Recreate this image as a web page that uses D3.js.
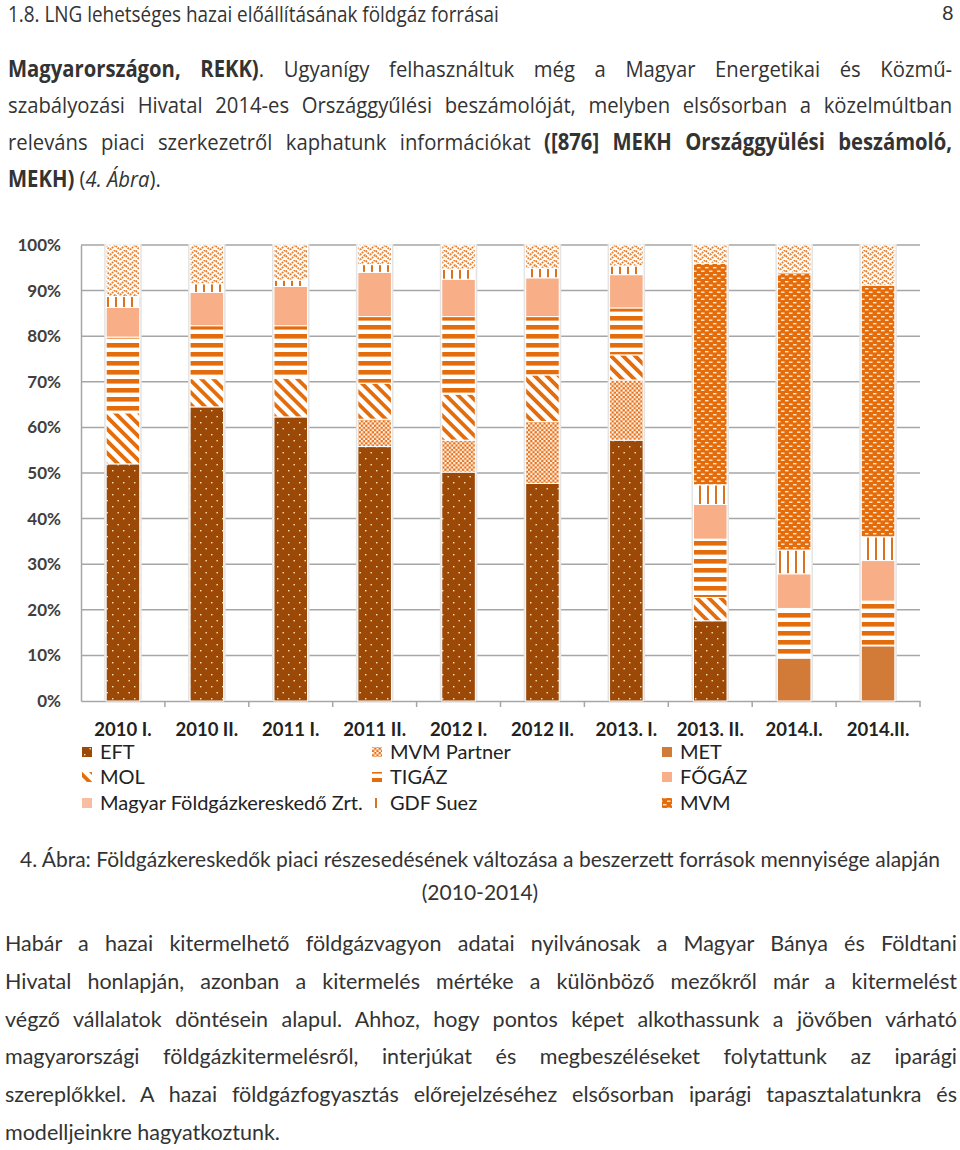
<!DOCTYPE html>
<html lang="hu">
<head>
<meta charset="utf-8">
<title>4. Ábra</title>
<script src="https://d3js.org/d3.v7.min.js"></script>
<style>
  body { margin:0; background:#fff; }
  #page { position:relative; width:960px; height:1150px; overflow:hidden; }
  .line { position:absolute; white-space:nowrap; text-align:justify; text-align-last:justify; }
  .cond { font-family:"Open Sans",sans-serif; font-size:22.5px; color:#333; transform:scaleX(0.9); transform-origin:0 0; }
  .cal { font-family:Lato,sans-serif; font-size:21.5px; color:#333; }
  .last { text-align-last:left; }
  svg { position:absolute; left:0; top:0; }
  .ax text { font-family:Lato,sans-serif; }
</style>
</head>
<body>
<div id="page">
  <div class="line cond last" style="left:8px;top:0px;font-size:21px;line-height:normal;">1.8. LNG lehetséges hazai előállításának földgáz forrásai</div>
  <div class="line cal last" style="left:942px;top:0px;font-size:20px;line-height:normal;">8</div>

  <div class="line cond" style="left:8px;width:1049px;top:53px;"><b>Magyarországon, REKK)</b>. Ugyanígy felhasználtuk még a Magyar Energetikai és Közmű-</div>
  <div class="line cond" style="left:8px;width:1049px;top:89px;">szabályozási Hivatal 2014-es Országgyűlési beszámolóját, melyben elsősorban a közelmúltban</div>
  <div class="line cond" style="left:8px;width:1049px;top:126px;">releváns piaci szerkezetről kaphatunk információkat <b>([876] MEKH Országgyülési beszámoló,</b></div>
  <div class="line cond last" style="left:8px;top:163px;"><b>MEKH)</b> (<i>4. Ábra</i>).</div>

  <div class="line cal last" style="left:0;width:960px;top:846px;font-size:21px;text-align:center;text-align-last:center;">4. Ábra: Földgázkereskedők piaci részesedésének változása a beszerzett források mennyisége alapján</div>
  <div class="line cal last" style="left:0;width:960px;top:879px;font-size:21px;text-align:center;text-align-last:center;">(2010-2014)</div>

  <div class="line cal" style="left:5px;width:952px;top:930px;">Habár a hazai kitermelhető földgázvagyon adatai nyilvánosak a Magyar Bánya és Földtani</div>
  <div class="line cal" style="left:5px;width:952px;top:968px;">Hivatal honlapján, azonban a kitermelés mértéke a különböző mezőkről már a kitermelést</div>
  <div class="line cal" style="left:5px;width:952px;top:1006px;">végző vállalatok döntésein alapul. Ahhoz, hogy pontos képet alkothassunk a jövőben várható</div>
  <div class="line cal" style="left:5px;width:952px;top:1043px;">magyarországi földgázkitermelésről, interjúkat és megbeszéléseket folytattunk az iparági</div>
  <div class="line cal" style="left:5px;width:952px;top:1081px;">szereplőkkel. A hazai földgázfogyasztás előrejelzéséhez elsősorban iparági tapasztalatunkra és</div>
  <div class="line cal last" style="left:5px;top:1119px;">modelljeinkre hagyatkoztunk.</div>
</div>

<script>
// categories and series (percent shares)
var categories = ["2010 I.", "2010 II.", "2011 I.", "2011 II.", "2012 I.", "2012 II.", "2013. I.", "2013. II.", "2014.I.", "2014.II."];

var eft        = [52.0, 64.5, 62.3, 55.8, 50.2, 47.7, 57.2, 17.6, 0, 0];
var mvmPartner = [0, 0, 0, 6.0, 7.0, 13.6, 13.2, 0, 0, 0];
var met        = [0, 0, 0, 0, 0, 0, 0, 0, 9.4, 12.1];
var mol        = [11.2, 6.2, 8.5, 7.9, 10.1, 10.2, 5.5, 5.1, 0, 0];
var tigaz      = [16.6, 11.6, 11.5, 14.6, 17.0, 12.8, 10.3, 12.8, 10.9, 9.8];
var fogaz      = [6.5, 7.3, 8.6, 9.7, 8.2, 8.5, 7.3, 7.6, 7.6, 8.9];
var mfk        = [0, 0, 0, 0, 0, 0, 0, 0, 0, 0];
var gdf        = [2.4, 1.9, 1.4, 1.7, 2.2, 2.1, 1.9, 4.3, 5.2, 5.2];
var mvm        = [0, 0, 0, 0, 0, 0, 0, 48.6, 60.8, 55.2];
var egyeb      = [11.3, 8.5, 7.7, 4.3, 5.3, 5.1, 4.6, 4.0, 6.1, 8.8];

var seriesNames = ["EFT", "MVM Partner", "MET", "MOL", "TIGÁZ", "FŐGÁZ", "Magyar Földgázkereskedő Zrt.", "GDF Suez", "MVM", "Egyéb"];
var seriesValues = [eft, mvmPartner, met, mol, tigaz, fogaz, mfk, gdf, mvm, egyeb];
var seriesFill = ["url(#pEft)", "url(#pCheck)", "#D27B38", "url(#pDiag)", "url(#pHor)", "#F8AF88", "#F7BEA2", "url(#pVert)", "url(#pMvm)", "url(#pZig)"];
var yTicks = [0, 10, 20, 30, 40, 50, 60, 70, 80, 90, 100];

var table = categories.map(function(c, i) {
  var row = {cat: c};
  seriesNames.forEach(function(s, j) { row[s] = seriesValues[j][i]; });
  return row;
});

var svg = d3.select("#page").insert("svg", ":first-child")
  .attr("width", 960).attr("height", 1150);

// patterns
var defs = svg.append("defs");
var OR = "#E46C0A";

var p = defs.append("pattern").attr("id", "pEft").attr("patternUnits", "userSpaceOnUse")
  .attr("width", 11).attr("height", 12);
p.append("rect").attr("width", 11).attr("height", 12).attr("fill", "#9C4907");
p.append("rect").attr("x", 2).attr("y", 2).attr("width", 1.4).attr("height", 1.4).attr("fill", "#FFE7B8");
p.append("rect").attr("x", 7.5).attr("y", 8).attr("width", 1.4).attr("height", 1.4).attr("fill", "#FFE7B8");

p = defs.append("pattern").attr("id", "pCheck").attr("patternUnits", "userSpaceOnUse")
  .attr("width", 4.4).attr("height", 4.4);
p.append("rect").attr("width", 4.4).attr("height", 4.4).attr("fill", "#E6701A");
p.append("rect").attr("width", 2.2).attr("height", 2.2).attr("fill", "#FFF4E8");
p.append("rect").attr("x", 2.2).attr("y", 2.2).attr("width", 2.2).attr("height", 2.2).attr("fill", "#FFF4E8");

p = defs.append("pattern").attr("id", "pDiag").attr("patternUnits", "userSpaceOnUse")
  .attr("width", 8.5).attr("height", 8.5).attr("patternTransform", "rotate(-45)");
p.append("rect").attr("width", 8.5).attr("height", 8.5).attr("fill", "#fff");
p.append("rect").attr("width", 3.8).attr("height", 8.5).attr("fill", OR);

p = defs.append("pattern").attr("id", "pHor").attr("patternUnits", "userSpaceOnUse")
  .attr("width", 10).attr("height", 9);
p.append("rect").attr("width", 10).attr("height", 9).attr("fill", "#fff");
p.append("rect").attr("y", 1).attr("width", 10).attr("height", 4.6).attr("fill", OR);

p = defs.append("pattern").attr("id", "pVert").attr("patternUnits", "userSpaceOnUse")
  .attr("width", 8).attr("height", 10);
p.append("rect").attr("width", 8).attr("height", 10).attr("fill", "#fff");
p.append("rect").attr("x", 3).attr("width", 2).attr("height", 10).attr("fill", "#D9731F");

p = defs.append("pattern").attr("id", "pMvm").attr("patternUnits", "userSpaceOnUse")
  .attr("width", 8).attr("height", 7);
p.append("rect").attr("width", 8).attr("height", 7).attr("fill", OR);
p.append("rect").attr("x", 1).attr("y", 1).attr("width", 3.5).attr("height", 1.4).attr("fill", "#FFE9D2");
p.append("rect").attr("x", 5).attr("y", 4.5).attr("width", 3.5).attr("height", 1.4).attr("fill", "#FFE9D2");
p.append("rect").attr("x", -3).attr("y", 4.5).attr("width", 3.5).attr("height", 1.4).attr("fill", "#FFE9D2");

p = defs.append("pattern").attr("id", "pZig").attr("patternUnits", "userSpaceOnUse")
  .attr("width", 10).attr("height", 10);
p.append("rect").attr("width", 10).attr("height", 10).attr("fill", "#fff");
p.append("path").attr("d", "M0,5 L5,0 L10,5 M0,10 L5,5 L10,10 M-2,2 L0,0 M10,0 L12,2")
  .attr("fill", "none").attr("stroke", "#E57F2C").attr("stroke-width", 1.8)
  .attr("stroke-dasharray", "1.8 0.9");

// scales
var x = d3.scaleBand().domain(categories).range([81, 920]).paddingInner(0.6).paddingOuter(0.3);
var y = d3.scaleLinear().domain([0, 100]).range([701, 245]);

// gridlines
svg.append("g").selectAll("line").data(yTicks.filter(function(d) { return d > 0; })).enter()
  .append("line")
  .attr("x1", 81).attr("x2", 920)
  .attr("y1", function(d) { return y(d); }).attr("y2", function(d) { return y(d); })
  .attr("stroke", "#A6A6A6").attr("stroke-width", 1.5);

// y axis
var yAxis = svg.append("g").attr("class", "ax").attr("transform", "translate(81,0)")
  .call(d3.axisLeft(y).tickValues(yTicks).tickSize(0).tickPadding(20).tickFormat(function(d) { return d + "%"; }));
yAxis.select(".domain").attr("stroke", "#A6A6A6").attr("stroke-width", 1.5);
yAxis.selectAll("text").attr("font-size", 17).attr("font-weight", "bold").attr("fill", "#404040");

// x axis
var xAxis = svg.append("g").attr("class", "ax").attr("transform", "translate(0,701)")
  .call(d3.axisBottom(x).tickSize(0).tickPadding(22));
xAxis.select(".domain").attr("stroke", "#A6A6A6").attr("stroke-width", 1.5);
xAxis.selectAll("text").attr("font-size", 18.5).attr("font-weight", "bold").attr("fill", "#222");
xAxis.append("g").selectAll("line").data(categories).enter()
  .append("line")
  .attr("x1", function(d) { return x(d) + x.bandwidth() + x.step() * x.paddingInner() / 2; })
  .attr("x2", function(d) { return x(d) + x.bandwidth() + x.step() * x.paddingInner() / 2; })
  .attr("y1", 0).attr("y2", 6).attr("stroke", "#A6A6A6").attr("stroke-width", 1.5);

// bar shadows
svg.append("g").selectAll("rect").data(categories).enter()
  .append("rect")
  .attr("x", function(d) { return x(d) - 2; })
  .attr("width", x.bandwidth() + 4)
  .attr("y", y(100) - 1).attr("height", y(0) - y(100) + 1)
  .attr("fill", "#E4E4E4");

// stacked bars
var stack = d3.stack().keys(seriesNames)(table);
svg.append("g").selectAll("g").data(stack).enter()
  .append("g")
  .attr("fill", function(d, i) { return seriesFill[i]; })
  .selectAll("rect").data(function(d) { return d.filter(function(s) { return s[1] - s[0] > 0; }); }).enter()
  .append("rect")
  .attr("x", function(d) { return x(d.data.cat); })
  .attr("width", x.bandwidth())
  .attr("y", function(d) { return y(d[1]); })
  .attr("height", function(d) { return y(d[0]) - y(d[1]); })
  .attr("stroke", "#fff").attr("stroke-width", 1);

// legend
var legendX = [82, 372, 662];
var legendY = [752, 777, 803];
var leg = svg.append("g").attr("class", "ax").selectAll("g").data(seriesNames.slice(0, 9)).enter()
  .append("g")
  .attr("transform", function(d, i) { return "translate(" + legendX[i % 3] + "," + legendY[Math.floor(i / 3)] + ")"; });
leg.append("rect").attr("x", 0).attr("y", -5).attr("width", 10).attr("height", 10)
  .attr("fill", function(d, i) { return seriesFill[i]; });
leg.append("text").attr("x", 18).attr("y", 7).attr("font-size", 20).attr("fill", "#222")
  .text(function(d) { return d; });
</script>
</body>
</html>
